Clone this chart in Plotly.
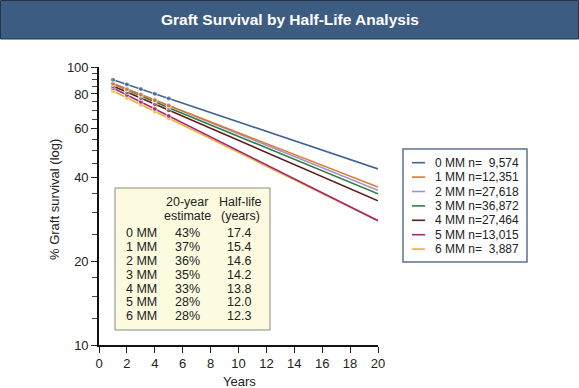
import plotly.graph_objects as go

# ---- data ----
years = [1, 2, 3, 4, 5, 20]
series_names = ["0 MM", "1 MM", "2 MM", "3 MM", "4 MM", "5 MM", "6 MM"]
surv_0mm = [90.0, 86.6, 83.3, 80.1, 77.1, 43.0]
surv_1mm = [87.0, 83.2, 79.5, 76.0, 72.7, 37.0]
surv_2mm = [87.5, 83.5, 79.6, 76.0, 72.5, 36.0]
surv_3mm = [87.0, 82.8, 78.8, 75.0, 71.4, 35.0]
surv_4mm = [85.5, 81.3, 77.3, 73.5, 69.9, 33.0]
surv_5mm = [84.0, 79.3, 74.9, 70.7, 66.7, 28.0]
surv_6mm = [82.0, 77.5, 73.2, 69.2, 65.4, 28.0]
n_patients = [9574, 12351, 27618, 36872, 27464, 13015, 3887]
est_20yr = [43, 37, 36, 35, 33, 28, 28]
half_life = [17.4, 15.4, 14.6, 14.2, 13.8, 12.0, 12.3]

x_ticks = list(range(0, 21, 2))
y_ticks = [10, 20, 40, 60, 80, 100]
y_minor = [12.5, 15, 17.5, 25, 30, 35, 45, 50, 55, 65, 70, 75, 85, 90, 95]

colors = ["#3f6593", "#d97a2f", "#a38fcf", "#2f7c46", "#5c1e1e", "#a3297b", "#e7b32f"]
all_series = [surv_0mm, surv_1mm, surv_2mm, surv_3mm, surv_4mm, surv_5mm, surv_6mm]

FONT = "Liberation Sans, Arial, Helvetica, sans-serif"

# plot area in pixels (for paper-coordinate conversion of decorations)
W, H = 579, 388
L, R, T, B = 99, 201, 67, 43
PW, PH = W - L - R, H - T - B


def px(xp):
    return (xp - L) / PW


def py(yp):
    return (H - B - yp) / PH


fig = go.Figure()

for i in reversed(range(len(series_names))):
    fig.add_trace(go.Scatter(
        x=years, y=all_series[i], mode="lines+markers",
        name=series_names[i], showlegend=False,
        line=dict(color=colors[i], width=1.6),
        marker=dict(size=[5, 5, 5, 5, 5, 0], color=colors[i], symbol="circle"),
    ))

shapes = []
annotations = []

# title bar
shapes.append(dict(type="rect", xref="paper", yref="paper",
                   x0=px(0.5), x1=px(W - 0.5), y0=py(39), y1=py(0.5),
                   fillcolor="#3d5c82", line=dict(color="#23344a", width=1), layer="below"))
annotations.append(dict(xref="paper", yref="paper", x=px(290), y=py(20),
                        text="<b>Graft Survival by Half-Life Analysis</b>", showarrow=False,
                        xanchor="center", yanchor="middle",
                        font=dict(family=FONT, size=15.5, color="white")))

# axis titles
annotations.append(dict(xref="paper", yref="paper", x=px(54), y=py(200),
                        text="% Graft survival (log)", textangle=-90, showarrow=False,
                        xanchor="center", yanchor="middle",
                        font=dict(family=FONT, size=13, color="#222")))
annotations.append(dict(xref="paper", yref="paper", x=px(239), y=py(381),
                        text="Years", showarrow=False, xanchor="center", yanchor="middle",
                        font=dict(family=FONT, size=13, color="#222")))

# inset table
shapes.append(dict(type="rect", xref="paper", yref="paper",
                   x0=px(115), x1=px(270), y0=py(330), y1=py(188),
                   fillcolor="#fcfadf", line=dict(color="#8a8a80", width=1)))
tfont = dict(family=FONT, size=12.5, color="#222")
for txt, xc, yc in [("20-year", 187, 202), ("estimate", 187, 216),
                    ("Half-life", 240, 202), ("(years)", 240, 216)]:
    annotations.append(dict(xref="paper", yref="paper", x=px(xc), y=py(yc), text=txt,
                            showarrow=False, xanchor="center", yanchor="middle", font=tfont))
for i, name in enumerate(series_names):
    yc = 233.3 + i * 13.8
    annotations.append(dict(xref="paper", yref="paper", x=px(124), y=py(yc), text=name,
                            showarrow=False, xanchor="left", yanchor="middle", font=tfont))
    annotations.append(dict(xref="paper", yref="paper", x=px(187), y=py(yc),
                            text=f"{est_20yr[i]}%", showarrow=False,
                            xanchor="center", yanchor="middle", font=tfont))
    annotations.append(dict(xref="paper", yref="paper", x=px(239), y=py(yc),
                            text=f"{half_life[i]:.1f}", showarrow=False,
                            xanchor="center", yanchor="middle", font=tfont))

# custom legend
shapes.append(dict(type="rect", xref="paper", yref="paper",
                   x0=px(403), x1=px(527), y0=py(262), y1=py(149),
                   fillcolor="white", line=dict(color="#5b7393", width=1.5)))
lfont = dict(family=FONT, size=12, color="#222")
for i, name in enumerate(series_names):
    yc = 162.7 + i * 14.4
    shapes.append(dict(type="line", xref="paper", yref="paper",
                       x0=px(412), x1=px(425), y0=py(yc), y1=py(yc),
                       line=dict(color=colors[i], width=1.6)))
    ntxt = f"{n_patients[i]:,}"
    ntxt = "\u2007" * (6 - len(ntxt)) + ntxt
    annotations.append(dict(xref="paper", yref="paper", x=px(433), y=py(yc),
                            text=f"{name} n={ntxt}", showarrow=False,
                            xanchor="left", yanchor="middle", font=lfont))

fig.update_layout(
    width=W, height=H,
    margin=dict(l=L, r=R, t=T, b=B),
    paper_bgcolor="white", plot_bgcolor="white",
    showlegend=False,
    shapes=shapes, annotations=annotations,
    font=dict(family=FONT, size=13, color="#222"),
    xaxis=dict(range=[0, 20], tickvals=x_ticks, ticks="outside", ticklen=6,
               tickcolor="#222", tickwidth=1.2, showline=True, linecolor="#111",
               linewidth=1.6, showgrid=False, zeroline=False,
               tickfont=dict(family=FONT, size=13, color="#222")),
    yaxis=dict(type="log", range=[1, 2], tickvals=y_ticks,
               ticktext=[str(v) for v in y_ticks], ticks="outside", ticklen=6,
               tickcolor="#222", tickwidth=1.2, showline=True, linecolor="#111",
               linewidth=1.6, showgrid=False, zeroline=False,
               minor=dict(tickvals=y_minor, ticks="outside", ticklen=5,
                          tickcolor="#444", tickwidth=1),
               tickfont=dict(family=FONT, size=13, color="#222")),
)

fig.write_html("out.html",
               config={"displayModeBar": False},
               post_script="document.body.style.margin='0';document.body.style.overflow='hidden';")
